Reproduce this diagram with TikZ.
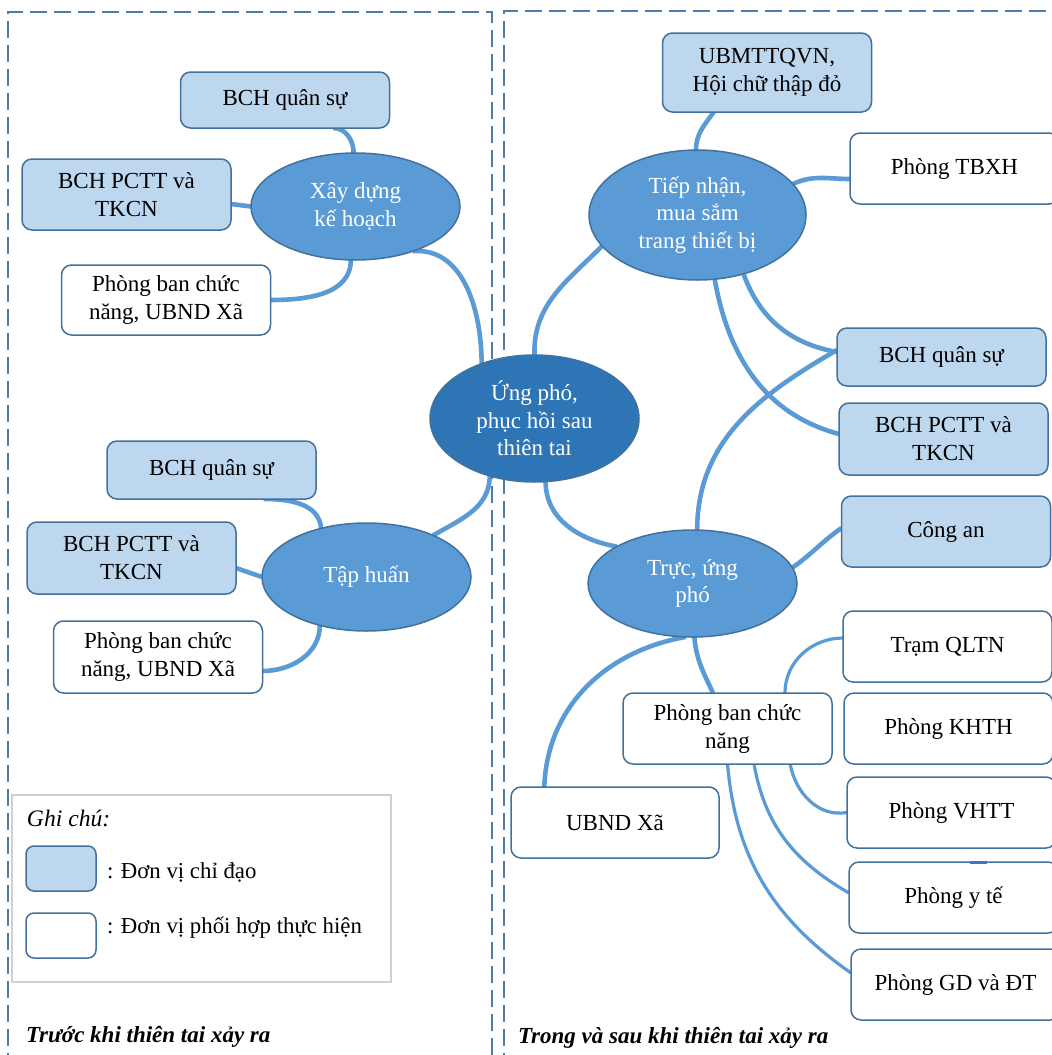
\documentclass[tikz,border=0pt]{standalone}
\usepackage{fontspec}
\setmainfont{Liberation Serif}
\usetikzlibrary{shapes.geometric,calc,backgrounds}
\definecolor{lineb}{HTML}{5B9BD5}
\definecolor{lightb}{HTML}{BDD7EE}
\definecolor{bordc}{HTML}{41719C}
\definecolor{midb}{HTML}{5B9BD5}
\definecolor{darkb}{HTML}{2E75B6}
\definecolor{dashc}{HTML}{4F7CAC}
\definecolor{legc}{HTML}{D0D0D0}
\definecolor{tickc}{HTML}{4472C4}
\begin{document}
\begin{tikzpicture}[x=1pt,y=-1pt,
  every node/.style={inner sep=0pt,outer sep=0pt},
  box/.style={draw=bordc,line width=1.5pt,rounded corners=10pt,align=center,
    minimum width=209pt,font=\fontsize{23}{28}\selectfont},
  boxb/.style={box,fill=lightb},
  boxw/.style={box,fill=white},
  ell/.style={ellipse,draw=bordc,line width=1.5pt,fill=midb,text=white,align=center,
    minimum width=209pt,font=\fontsize{23}{27.5}\selectfont},
  conn/.style={draw=lineb,line width=4.6pt},
  thinconn/.style={draw=lineb,line width=3.2pt},
  panel/.style={draw=dashc,line width=1.5pt,dash pattern=on 17pt off 7pt},
  legtext/.style={anchor=west,font=\fontsize{22.8}{26}\selectfont},
  caption/.style={anchor=west,font=\bfseries\itshape\fontsize{23}{28}\selectfont}]
\useasboundingbox (0,0) rectangle (1052,1055);

% panels
\draw[panel] (8,1070) -- (8,12) -- (492,12) -- (492,1070);
\draw[panel] (504,1070) -- (504,11) -- (1070,11);

% left: before
\node[boxb,minimum height=56pt] (lq1) at (285,100) {BCH quân sự};
\node[boxb,minimum height=71pt] (lp1) at (126.5,194.5) {BCH PCTT và\\TKCN};
\node[boxw,minimum height=70pt] (lb1) at (166,300) {Phòng ban chức\\năng, UBND Xã};
\node[ell,minimum height=107pt] (le1) at (355.5,206.5) {Xây dựng\\kế hoạch};

\node[boxb,minimum height=58pt] (lq2) at (211.5,470) {BCH quân sự};
\node[boxb,minimum height=72pt] (lp2) at (131.5,558) {BCH PCTT và\\TKCN};
\node[boxw,minimum height=72pt] (lb2) at (158,657) {Phòng ban chức\\năng, UBND Xã};
\node[ell,minimum height=108pt] (le2) at (366.5,577) {Tập huấn};

% centre
\node[ell,fill=darkb,draw=bordc,minimum height=127pt] (ctr) at (534.5,418.5) {Ứng phó,\\phục hồi sau\\thiên tai};

% right: during and after
\node[boxb,minimum height=79pt] (ru) at (767,72.5) {UBMTTQVN,\\Hội chữ thập đỏ};
\node[boxw,minimum height=71pt] (rt) at (954.5,168.5) {Phòng TBXH};
\node[ell,minimum width=217pt,minimum height=130pt] (re1) at (697.5,215) {Tiếp nhận,\\mua sắm\\trang thiết bị};
\node[boxb,minimum height=58pt] (rq) at (941.5,357) {BCH quân sự};
\node[boxb,minimum height=72pt] (rp) at (943.5,439) {BCH PCTT và\\TKCN};
\node[boxb,minimum height=71pt] (rc) at (946,531.5) {Công an};
\node[ell,minimum height=107pt] (re2) at (692.5,583.5) {Trực, ứng\\phó};
\node[boxw,minimum height=71pt] (rtq) at (947.5,646.5) {Trạm QLTN};
\node[boxw,minimum height=71pt] (rkh) at (948.5,728.5) {Phòng KHTH};
\node[boxw,minimum height=71pt] (rvh) at (951.5,812.5) {Phòng VHTT};
\node[boxw,minimum height=71pt] (ryt) at (953.5,897.5) {Phòng y tế};
\node[boxw,minimum height=71pt] (rgd) at (955.5,984.5) {Phòng GD và ĐT};
\node[boxw,minimum height=71pt] (rpb) at (727.5,728.5) {Phòng ban chức\\năng};
\node[boxw,minimum width=208pt,minimum height=71pt] (rub) at (615,822.5) {UBND Xã};

% small tick on Phòng y tế
\draw[tickc,line width=3pt] ($(ryt.north west)+(121,0)$) -- ++(17,0);

% legend
\node[draw=legc,line width=1.5pt,minimum width=379pt,minimum height=187pt] (leg) at (201.5,888.5) {};
\node[anchor=west,font=\itshape\fontsize{23.6}{28}\selectfont] (ghichu) at (27,818) {Ghi chú:};
\node[boxb,rounded corners=8pt,minimum width=70pt,minimum height=45pt] (lk1) at (61,868.5) {};
\node[boxw,rounded corners=8pt,minimum width=70pt,minimum height=45pt] (lk2) at (61,935.5) {};
\node[legtext] (lt1) at (107,872) {: Đơn vị chỉ đạo};
\node[legtext] (lt2) at (107,928) {: Đơn vị phối hợp thực hiện};

% captions
\node[caption] (cap1) at (26,1037) {Trước khi thiên tai xảy ra};
\node[caption] (cap2) at (518,1038) {Trong và sau khi thiên tai xảy ra};

% connectors
\begin{scope}[on background layer]
\draw[conn] ($(lq1.south west)!0.73!(lq1.south east)$) to[out=0,in=90] (le1.92);
\draw[conn] ([yshift=-9.5pt]lp1.east) -- (le1.180);
\draw[conn] (lb1.east) to[out=0,in=-90] (le1.-95);
\draw[conn] (le1.-38) to[out=5,in=90] (ctr.134);
\draw[conn] ($(lq2.south west)!0.75!(lq2.south east)$) to[out=0,in=95] (le2.133);
\draw[conn] ([yshift=-10pt]lp2.east) -- (le2.180);
\draw[conn] ([yshift=-14pt]lb2.east) to[out=0,in=-90] (le2.226);
\draw[conn] (le2.32) to[out=30,in=-90] (ctr.232);

\draw[conn] ($(ru.south west)!0.245!(ru.south east)$) to[out=-125,in=90] ([xshift=-1.5pt]re1.north);
\draw[conn] ([yshift=-10.5pt]rt.west) to[out=180,in=25] (re1.18);
\draw[conn] (re1.198) to[out=225,in=92] (ctr.north);
\draw[conn] (re1.-75) to[out=-80,in=165] ([yshift=5pt]rp.west);
\draw[conn] (re1.-52) to[out=-70,in=170] ([yshift=5pt]rq.west);
\draw[conn] (re2.85) to[out=90,in=210] ([yshift=7pt]rq.west);
\draw[conn] (ctr.-80) to[out=-90,in=170] (re2.154);
\draw[conn] ([yshift=3.5pt]rc.west) to[out=215,in=35] (re2.9);
\draw[conn] (re2.-88) to[out=-85,in=115] ([xshift=-14.5pt]rpb.north);
\draw[conn] (re2.-97) to[out=190,in=88] ($(rub.north west)!0.16!(rub.north east)$);
\draw[thinconn] ($(rpb.north west)!0.775!(rpb.north east)$) to[out=90,in=180] ([yshift=8.5pt]rtq.west);
\draw[thinconn] ($(rpb.south west)!0.80!(rpb.south east)$) to[out=-80,in=190] (rvh.west);
\draw[thinconn] ($(rpb.south west)!0.627!(rpb.south east)$) to[out=-80,in=150] ([yshift=4.5pt]ryt.west);
\draw[thinconn] (rpb.south) to[out=-85,in=145] ([yshift=11.5pt]rgd.west);
\end{scope}
\end{tikzpicture}
\end{document}
